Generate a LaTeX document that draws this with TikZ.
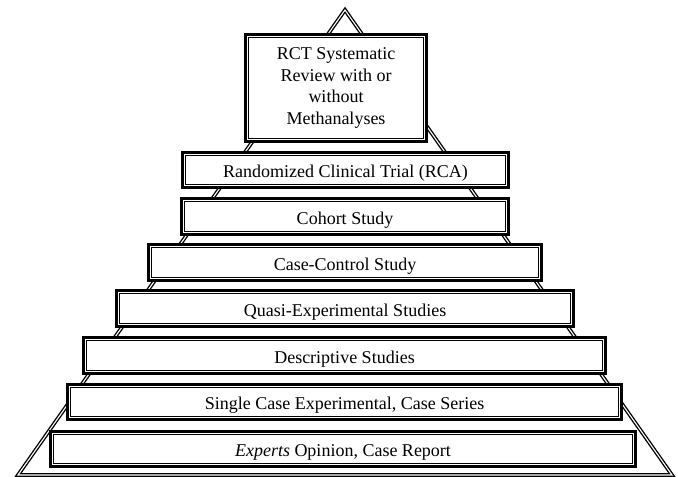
\documentclass[tikz,border=0pt]{standalone}
\usepackage{fontspec}
\setmainfont{Liberation Serif}
\usetikzlibrary{calc}
\begin{document}
\begin{tikzpicture}[x=1pt,y=-1pt,
  lvl/.style={draw=black, line width=2.8pt, fill=white, inner sep=0pt,
    font=\fontsize{18}{21.4}\selectfont, text height=15pt, text depth=0pt},
  toplvl/.style={draw=black, line width=2.8pt, fill=white, inner sep=0pt,
    align=center, font=\fontsize{18}{21.4}\selectfont},
  innerline/.style={draw=black, line width=1pt},
  pyr/.style={draw=black, double=white, line width=1.35pt, double distance=1.1pt, line join=miter}]
\useasboundingbox (0,0) rectangle (678,477);
% pyramid outline
\coordinate (apex) at (345,10);
\coordinate (bl) at (18,475);
\coordinate (br) at (672,475);
\draw[pyr] (bl) -- (apex) -- (br) -- cycle;
% levels
\node[toplvl, minimum width=181.2pt, minimum height=107.2pt] (b1) at (336,88)
  {RCT Systematic\\Review with or\\without\\Methanalyses};
\node[lvl, minimum width=326.2pt, minimum height=35.2pt] (b2) at (345.5,170) {Randomized Clinical Trial (RCA)};
\node[lvl, minimum width=327.2pt, minimum height=36.2pt] (b3) at (345,216.5) {Cohort Study};
\node[lvl, minimum width=393.2pt, minimum height=36.2pt] (b4) at (345,262.5) {Case-Control Study};
\node[lvl, minimum width=457.2pt, minimum height=36.2pt] (b5) at (345,308.5) {Quasi-Experimental Studies};
\node[lvl, minimum width=522.2pt, minimum height=36.2pt] (b6) at (344.5,355.5) {Descriptive Studies};
\node[lvl, minimum width=554.2pt, minimum height=35.2pt] (b7) at (344.5,402) {Single Case Experimental, Case Series};
\node[lvl, minimum width=585.2pt, minimum height=35.2pt] (b8) at (343,449) {\textit{Experts} Opinion, Case Report};
\foreach \i in {1,...,8}
  \draw[innerline] ($(b\i.south west)+(4.4pt,4.4pt)$) rectangle ($(b\i.north east)-(4.4pt,4.4pt)$);
\end{tikzpicture}
\end{document}
